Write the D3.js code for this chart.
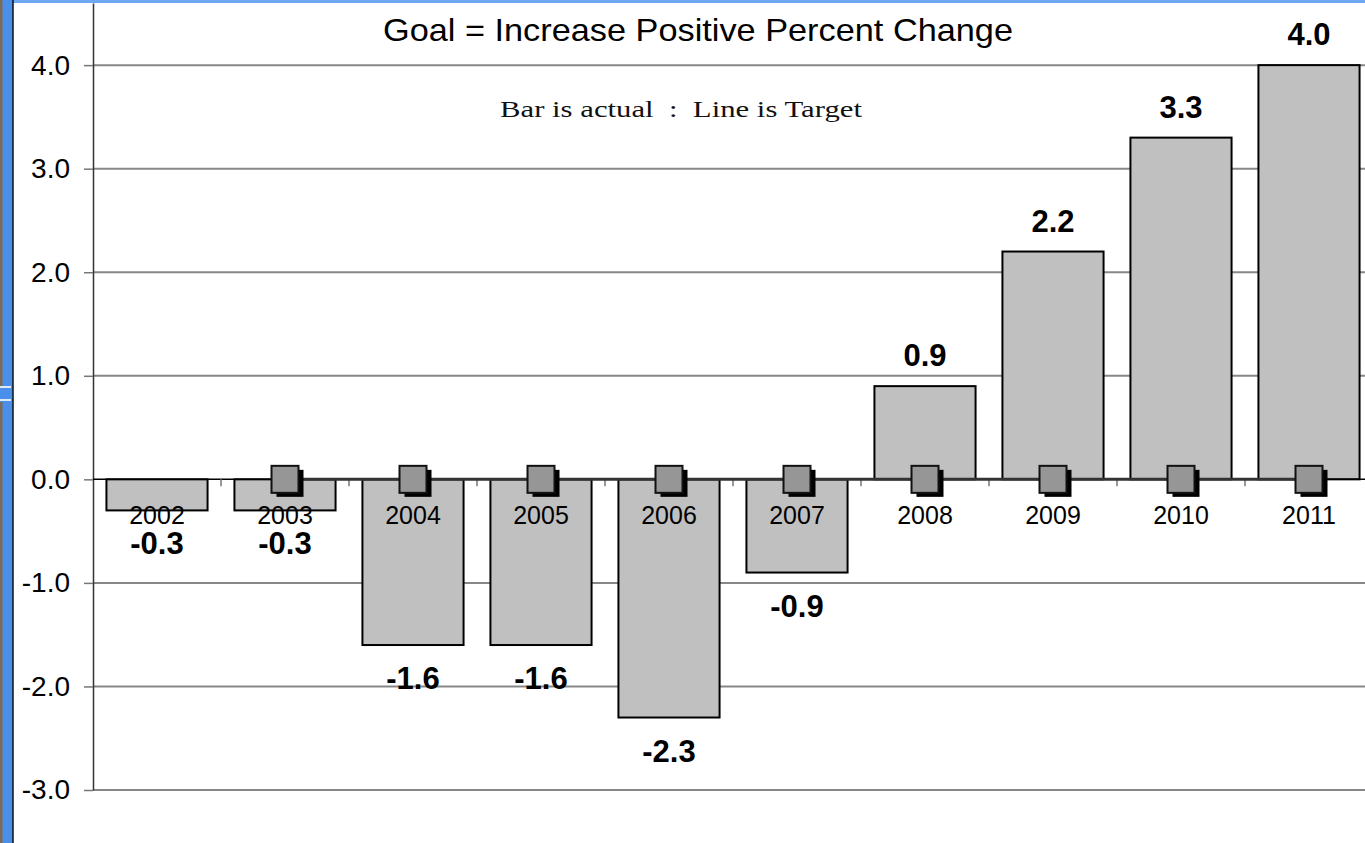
<!DOCTYPE html>
<html>
<head>
<meta charset="utf-8">
<script src="https://cdn.jsdelivr.net/npm/d3@7"></script>
<style>
  html, body { margin: 0; padding: 0; background: #ffffff; }
  svg { display: block; }
</style>
</head>
<body>
<svg id="chart" width="1365" height="843"></svg>
<script>
// Annual percent change: actual (bars) vs target (line)
const years = ["2002", "2003", "2004", "2005", "2006", "2007", "2008", "2009", "2010", "2011"];
const actual = [-0.3, -0.3, -1.6, -1.6, -2.3, -0.9, 0.9, 2.2, 3.3, 4.0];
const target = [null, 0, 0, 0, 0, 0, 0, 0, 0, 0];
const yTicks = [-3, -2, -1, 0, 1, 2, 3, 4];
const titleText = "Goal = Increase Positive Percent Change";
const noteText = "Bar is actual  :  Line is Target";

const W = 1365, H = 843;
const svg = d3.select("#chart");

// slide frame pieces along the top and left edges
svg.append("rect").attr("x", 0).attr("y", 0).attr("width", W).attr("height", 3).attr("fill", "#6ea8f3");
svg.append("rect").attr("x", 0).attr("y", 0).attr("width", 13).attr("height", H).attr("fill", "#4a8fea");
svg.append("rect").attr("x", 0).attr("y", 0).attr("width", 2.5).attr("height", 386).attr("fill", "#7a6c55");
svg.append("rect").attr("x", 0).attr("y", 402).attr("width", 2.5).attr("height", H - 402).attr("fill", "#7a6c55");
svg.append("rect").attr("x", 0).attr("y", 386).attr("width", 11).attr("height", 2).attr("fill", "#dfe9f7");
svg.append("rect").attr("x", 0).attr("y", 399).attr("width", 11).attr("height", 2).attr("fill", "#dfe9f7");
svg.append("line").attr("x1", 13).attr("x2", 13).attr("y1", 0).attr("y2", H)
  .attr("stroke", "#111").attr("stroke-width", 1.5);

// scales
const x = d3.scaleBand().domain(years).range([93, 1373]).paddingInner(0.21).paddingOuter(0.105);
const xStep = d3.scaleBand().domain(years).range([93, 1373]);
const y = d3.scaleLinear().domain([-3, 4.6]).range([790, 3]);

const font = "'Liberation Sans', Arial, sans-serif";

// horizontal gridlines
svg.append("g").selectAll("line").data(yTicks.filter(d => d !== 0)).join("line")
  .attr("x1", 93).attr("x2", W)
  .attr("y1", d => y(d)).attr("y2", d => y(d))
  .attr("stroke", "#878787").attr("stroke-width", 2);

// y axis
const yAxis = svg.append("g").attr("transform", "translate(93,0)")
  .call(d3.axisLeft(y).tickValues(yTicks).tickFormat(d3.format(".1f")).tickSizeInner(9).tickSizeOuter(0).tickPadding(14));
yAxis.select(".domain").attr("stroke", "#333").attr("stroke-width", 1.5);
yAxis.selectAll(".tick line").attr("stroke", "#777").attr("stroke-width", 1.5);
yAxis.selectAll(".tick text")
  .attr("font-family", font).attr("font-size", 28).attr("fill", "#000")
  .text(d => d3.format(".1f")(d).replace("−", "-"));

// bars
svg.append("g").selectAll("rect").data(years).join("rect")
  .attr("x", d => x(d))
  .attr("width", x.bandwidth())
  .attr("y", (d, i) => y(Math.max(0, actual[i])))
  .attr("height", (d, i) => Math.abs(y(actual[i]) - y(0)))
  .attr("fill", "#c0c0c0")
  .attr("stroke", "#000").attr("stroke-width", 2);

// zero axis with category boundary ticks
svg.append("line").attr("x1", 93).attr("x2", W).attr("y1", y(0)).attr("y2", y(0))
  .attr("stroke", "#000").attr("stroke-width", 1.5);
svg.append("g").selectAll("line").data(years.slice(1)).join("line")
  .attr("x1", d => xStep(d)).attr("x2", d => xStep(d))
  .attr("y1", y(0)).attr("y2", y(0) + 7)
  .attr("stroke", "#777").attr("stroke-width", 1.5);

// target line
const tPts = years.map((d, i) => ({ year: d, v: target[i] })).filter(p => p.v !== null);
const cx = d => xStep(d) + xStep.bandwidth() / 2;
svg.append("path").datum(tPts)
  .attr("d", d3.line().x(p => cx(p.year)).y(p => y(p.v)))
  .attr("fill", "none").attr("stroke", "#333").attr("stroke-width", 3);

// target markers with drop shadow
const mk = 27;
const markers = svg.append("g").selectAll("g").data(tPts).join("g")
  .attr("transform", p => `translate(${cx(p.year)},${y(p.v)})`);
markers.append("rect")
  .attr("x", -mk / 2 + 5).attr("y", -mk / 2 + 4).attr("width", mk).attr("height", mk)
  .attr("fill", "#000");
markers.append("rect")
  .attr("x", -mk / 2).attr("y", -mk / 2).attr("width", mk).attr("height", mk)
  .attr("fill", "#969696").attr("stroke", "#111").attr("stroke-width", 2);

// category labels
svg.append("g").selectAll("text").data(years).join("text")
  .attr("x", d => cx(d)).attr("y", y(0) + 45)
  .attr("text-anchor", "middle")
  .attr("font-family", font).attr("font-size", 25).attr("fill", "#000")
  .text(d => d);

// value labels
svg.append("g").selectAll("text").data(years).join("text")
  .attr("x", d => cx(d))
  .attr("y", (d, i) => actual[i] < 0 ? y(actual[i]) + 44 : y(actual[i]) - 20)
  .attr("text-anchor", "middle")
  .attr("font-family", font).attr("font-size", 31).attr("font-weight", "bold").attr("fill", "#000")
  .text((d, i) => d3.format(".1f")(actual[i]).replace("−", "-"));

// title and note
svg.append("text").attr("x", 698).attr("y", 41)
  .attr("text-anchor", "middle")
  .attr("font-family", font).attr("font-size", 32).attr("fill", "#000")
  .attr("textLength", 630).attr("lengthAdjust", "spacingAndGlyphs")
  .text(titleText);

svg.append("text").attr("x", 681).attr("y", 117)
  .attr("text-anchor", "middle")
  .attr("font-family", "'Liberation Serif', 'Times New Roman', serif").attr("font-size", 23).attr("fill", "#111")
  .attr("textLength", 362).attr("lengthAdjust", "spacingAndGlyphs")
  .style("white-space", "pre")
  .text(noteText);
</script>
</body>
</html>
